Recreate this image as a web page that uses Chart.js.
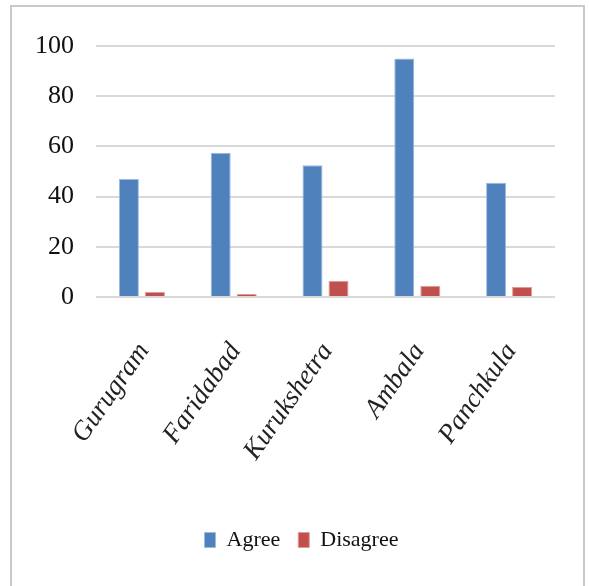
<!DOCTYPE html>
<html>
<head>
<meta charset="utf-8">
<script src="https://cdn.jsdelivr.net/npm/chart.js@4/dist/chart.umd.min.js"></script>
<style>
  html, body { margin: 0; padding: 0; background: #ffffff; }
  #wrap { position: relative; width: 589px; height: 586px; overflow: hidden; }
  #frame { position: absolute; left: 10px; top: 5px; width: 575px; height: 600px;
           border: 2px solid #c9c9c9; box-sizing: border-box; }
  canvas { position: absolute; left: 0; top: 0; }
</style>
</head>
<body>
<div id="wrap">
  <div id="frame"></div>
  <canvas id="chart" width="589" height="586"></canvas>
</div>
<script>
// Survey responses by district
const districts = ["Gurugram", "Faridabad", "Kurukshetra", "Ambala", "Panchkula"];
const agree = [47, 57.5, 52.5, 95, 45.5];
const disagree = [2, 1.2, 6.5, 4.5, 4];
const yTicks = [0, 20, 40, 60, 80, 100];

// nudge the bottom legend to the right so it sits centred under the plot
const legendShift = {
  id: "legendShift",
  afterLayout(chart) {
    const lg = chart.legend;
    if (lg) { lg.left += 24; lg.right += 24; }
  }
};

new Chart(document.getElementById("chart"), {
  type: "bar",
  plugins: [legendShift],
  data: {
    labels: districts,
    datasets: [
      { label: "Agree", data: agree, backgroundColor: "#4f81bd", borderColor: "#9dbbe0",
        borderWidth: 1, categoryPercentage: 0.567, barPercentage: 0.77 },
      { label: "Disagree", data: disagree, backgroundColor: "#c0504d", borderColor: "#e09a98",
        borderWidth: 1, categoryPercentage: 0.567, barPercentage: 0.77 }
    ]
  },
  options: {
    responsive: false,
    animation: false,
    layout: { padding: { left: 0, right: 34, top: 46, bottom: 25 } },
    plugins: {
      tooltip: { enabled: false },
      legend: {
        position: "bottom",
        labels: {
          boxWidth: 11, boxHeight: 15, padding: 18, color: "#111",
          font: { family: "Liberation Serif", size: 22 }
        }
      }
    },
    scales: {
      x: {
        grid: { display: false, drawTicks: false },
        border: { display: false },
        afterFit: s => { s.height = 214; },
        ticks: {
          color: "#222", padding: 40, autoSkip: false, labelOffset: 2,
          minRotation: 55, maxRotation: 55,
          font: { family: "Liberation Serif", style: "italic", size: 27 }
        }
      },
      y: {
        min: 0, max: 100,
        afterFit: s => { s.width = 96; },
        afterBuildTicks: s => { s.ticks = yTicks.map(v => ({ value: v })); },
        grid: { color: "#d9d9d9", lineWidth: 2, drawTicks: false },
        border: { display: false },
        ticks: {
          color: "#111", padding: 22,
          font: { family: "Liberation Serif", size: 26 }
        }
      }
    }
  }
});
</script>
</body>
</html>
